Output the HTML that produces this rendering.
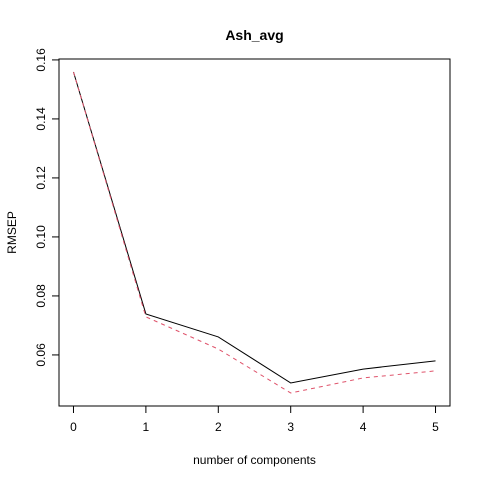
<!DOCTYPE html>
<html><head><meta charset="utf-8"><style>
body{margin:0;background:#fff}
text{font-family:"Liberation Sans",sans-serif;font-size:12px;fill:#000}
</style></head><body>
<svg id="chart" width="480" height="480">
<rect x="0" y="0" width="480" height="480" fill="#fff"/>
<text x="254.5" y="40" text-anchor="middle" font-weight="bold" style="font-size:14px">Ash_avg</text>
<text x="254.5" y="464" text-anchor="middle">number of components</text>
<text transform="translate(16,232.5) rotate(-90)" text-anchor="middle">RMSEP</text>
<rect x="59" y="59" width="391" height="347" fill="none" stroke="#000" stroke-width="1"/>
<g id="axes"></g>
<g id="series"></g>
</svg>
<script>
const components=[0,1,2,3,4,5];
const cvValues=[0.1559,0.0739,0.0661,0.0505,0.0552,0.0580];
const adjCvValues=[0.1559,0.0729,0.0620,0.0471,0.0522,0.0546];
const xTicks=[0,1,2,3,4,5];
const yTicks=[0.06,0.08,0.10,0.12,0.14,0.16];
const yTickLabels=["0.06","0.08","0.10","0.12","0.14","0.16"];
const NS="http://www.w3.org/2000/svg";
const L=59,R=450,T=59,B=406;
const xmin=-0.2,xmax=5.2,ymin=0.04269,ymax=0.16031;
function sx(v){return L+(v-xmin)/(xmax-xmin)*(R-L);}
function sy(v){return B-(v-ymin)/(ymax-ymin)*(B-T);}
function mk(tag,attrs,parent){const e=document.createElementNS(NS,tag);for(const k in attrs)e.setAttribute(k,attrs[k]);parent.appendChild(e);return e;}
const axes=document.getElementById('axes');
const xa=mk('line',{x1:sx(xTicks[0]),x2:sx(xTicks[xTicks.length-1]),y1:B,y2:B,stroke:'#000'},axes);


xTicks.forEach(t=>{
 const l=mk('line',{x1:sx(t),x2:sx(t),y1:B,y2:B+7,stroke:'#000'},axes);
 
 
 const tx=mk('text',{x:sx(t),y:B+25,'text-anchor':'middle'},axes);tx.textContent=t;
 
 
});
const ya=mk('line',{x1:L,x2:L,y1:sy(yTicks[0]),y2:sy(yTicks[yTicks.length-1]),stroke:'#000'},axes);


yTicks.forEach((t,i)=>{
 const y=sy(t);
 const l=mk('line',{x1:L-7,x2:L,y1:y,y2:y,stroke:'#000'},axes);
 
 
 const tx=mk('text',{x:0,y:0,'text-anchor':'middle',transform:`translate(45,${y}) rotate(-90)`},axes);tx.textContent=yTickLabels[i];
 
 
});
const series=document.getElementById('series');
function pts(vals){return components.map((c,i)=>sx(c)+','+sy(vals[i])).join(' ');}
const l1=mk('polyline',{points:pts(cvValues),fill:'none',stroke:'#000','stroke-width':1},series);


const l2=mk('polyline',{points:pts(adjCvValues),fill:'none',stroke:'#DF536B','stroke-width':1,'stroke-dasharray':'4,4'},series);


</script>
</body></html>
